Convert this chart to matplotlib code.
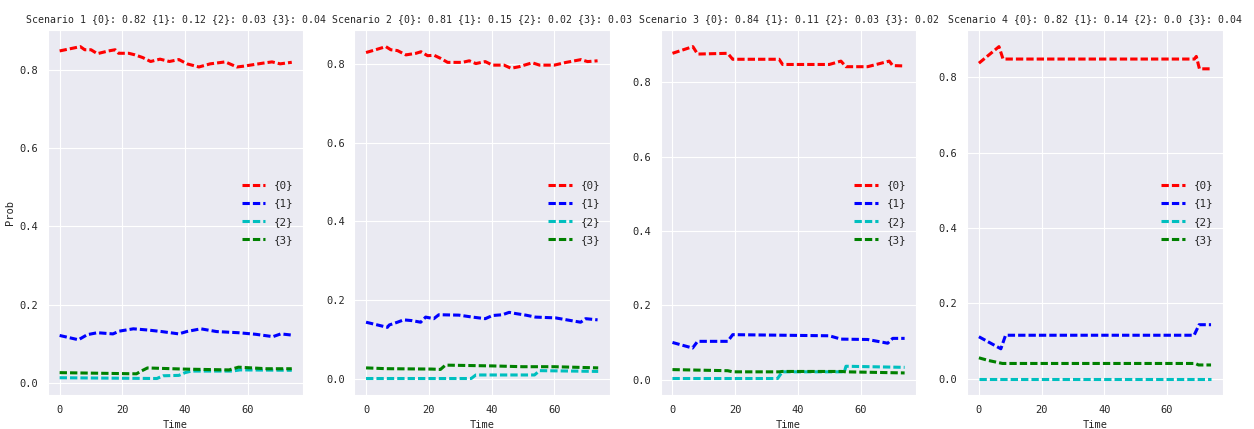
import matplotlib
matplotlib.use("Agg")
import matplotlib.pyplot as plt
import seaborn as sns

# ---- data: keypoints (time, value) for each scenario/series ----
labels = ["{0}", "{1}", "{2}", "{3}"]
colors = ["r", "b", "c", "g"]
finals = [
    [0.82, 0.12, 0.03, 0.04],
    [0.81, 0.15, 0.02, 0.03],
    [0.84, 0.11, 0.03, 0.02],
    [0.82, 0.14, 0.0, 0.04],
]

# Scenario 1
s1_t0 = [0, 3, 6.6, 8, 10, 12, 15.6, 17.7, 18.8, 22, 24, 26.5, 29, 32, 35, 38, 40.6, 44.4, 48, 52.8, 56.5, 58.6, 65, 67.7, 70.3, 74]
s1_v0 = [0.848, 0.853, 0.859, 0.851, 0.851, 0.841, 0.848, 0.851, 0.842, 0.842, 0.838, 0.831, 0.821, 0.827, 0.821, 0.826, 0.815, 0.807, 0.815, 0.820, 0.807, 0.809, 0.817, 0.820, 0.815, 0.819]
s1_t1 = [0, 6, 8.8, 12, 17, 19, 23.5, 28, 32.5, 38, 40.5, 45, 50, 57, 62.5, 68, 70.5, 74]
s1_v1 = [0.121, 0.110, 0.123, 0.128, 0.125, 0.132, 0.138, 0.135, 0.131, 0.125, 0.131, 0.138, 0.131, 0.128, 0.124, 0.118, 0.125, 0.122]
s1_t2 = [0, 31, 33, 38, 40, 42, 55, 57.5, 74]
s1_v2 = [0.013, 0.011, 0.018, 0.019, 0.026, 0.030, 0.030, 0.033, 0.032]
s1_t3 = [0, 24.5, 26, 28, 40, 54, 57, 66, 74]
s1_v3 = [0.026, 0.023, 0.030, 0.038, 0.035, 0.033, 0.040, 0.036, 0.036]

# Scenario 2
s2_t0 = [0, 3, 6.3, 7.9, 10, 12.7, 15.9, 17.5, 19.6, 21.7, 23.8, 26, 30.7, 32.9, 35, 38, 40.3, 44, 46.2, 48.8, 53, 55.3, 60, 63.8, 68.5, 70.6, 73.8]
s2_v0 = [0.829, 0.836, 0.844, 0.836, 0.834, 0.823, 0.827, 0.831, 0.821, 0.822, 0.814, 0.804, 0.804, 0.808, 0.801, 0.806, 0.797, 0.797, 0.789, 0.793, 0.803, 0.797, 0.797, 0.804, 0.811, 0.806, 0.808]
s2_t1 = [0, 6.8, 7.4, 10, 12, 14.7, 17.4, 19, 21.6, 23.2, 29.6, 33.9, 38, 40.3, 43.5, 45.6, 47.7, 50.9, 54, 60.4, 64.7, 68.4, 70, 73.8]
s2_v1 = [0.144, 0.131, 0.137, 0.144, 0.150, 0.148, 0.144, 0.157, 0.153, 0.163, 0.162, 0.157, 0.153, 0.161, 0.163, 0.169, 0.166, 0.162, 0.157, 0.155, 0.149, 0.144, 0.153, 0.150]
s2_t2 = [0, 33.5, 35, 53.7, 55.3, 74]
s2_v2 = [0.001, 0.001, 0.010, 0.010, 0.021, 0.019]
s2_t3 = [0, 6.3, 21, 23.7, 25.3, 40.3, 49.9, 60, 74]
s2_v3 = [0.028, 0.026, 0.025, 0.024, 0.035, 0.033, 0.031, 0.031, 0.028]

# Scenario 3
s3_t0 = [0, 6.5, 8, 17.6, 19.2, 34, 35.1, 50, 53.7, 55.3, 62.2, 69.1, 70.2, 74]
s3_v0 = [0.878, 0.896, 0.876, 0.878, 0.862, 0.862, 0.848, 0.848, 0.857, 0.842, 0.842, 0.857, 0.845, 0.844]
s3_t1 = [0, 6.4, 8, 17.6, 19.2, 50, 53.7, 62.2, 68.6, 70.2, 74]
s3_v1 = [0.100, 0.085, 0.103, 0.103, 0.121, 0.118, 0.109, 0.108, 0.098, 0.111, 0.111]
s3_t2 = [0, 33.5, 35, 54.8, 55.3, 74]
s3_v2 = [0.003, 0.003, 0.021, 0.021, 0.036, 0.033]
s3_t3 = [0, 17.6, 19.2, 34, 35, 54, 55.3, 74]
s3_v3 = [0.027, 0.024, 0.021, 0.021, 0.022, 0.022, 0.021, 0.018]

# Scenario 4
s4_t0 = [0, 6.4, 7.7, 68.7, 69.3, 70.3, 74]
s4_v0 = [0.838, 0.882, 0.849, 0.849, 0.856, 0.823, 0.823]
s4_t1 = [0, 7, 8.5, 68.6, 70.2, 74]
s4_v1 = [0.111, 0.079, 0.115, 0.115, 0.143, 0.143]
s4_t2 = [0, 74]
s4_v2 = [0.0, 0.0]
s4_t3 = [0, 3, 7.5, 69, 70, 74]
s4_v3 = [0.055, 0.048, 0.040, 0.040, 0.036, 0.036]

scenarios = [
    [(s1_t0, s1_v0), (s1_t1, s1_v1), (s1_t2, s1_v2), (s1_t3, s1_v3)],
    [(s2_t0, s2_v0), (s2_t1, s2_v1), (s2_t2, s2_v2), (s2_t3, s2_v3)],
    [(s3_t0, s3_v0), (s3_t1, s3_v1), (s3_t2, s3_v2), (s3_t3, s3_v3)],
    [(s4_t0, s4_v0), (s4_t1, s4_v1), (s4_t2, s4_v2), (s4_t3, s4_v3)],
]

sns.set_style("darkgrid")
plt.rcParams["font.family"] = ["DejaVu Sans Mono"]
plt.rcParams["font.size"] = 7.5

fig, axes = plt.subplots(1, 4, figsize=(12.54, 4.29), dpi=100)
fig.subplots_adjust(left=0.0383, right=0.975, top=0.93, bottom=0.079, wspace=0.2)

for i, ax in enumerate(axes):
    for j, (t, v) in enumerate(scenarios[i]):
        ax.plot(t, v, color=colors[j], lw=2.2, linestyle=(0, (2.4, 1.0)), label=labels[j])
    f = finals[i]
    ax.set_title("Scenario %d {0}: %s {1}: %s {2}: %s {3}: %s" % (i + 1, f[0], f[1], f[2], f[3]),
                 fontsize=7.15, color=".15", pad=6)
    ax.set_xlabel("Time", fontsize=7.5, color=".15")
    if i == 0:
        ax.set_ylabel("Prob", fontsize=7.5, color=".15", labelpad=3)
    ax.set_xticks([0, 20, 40, 60])
    ax.set_yticks([0.0, 0.2, 0.4, 0.6, 0.8])
    ax.tick_params(labelsize=7.5, colors=".15")
    ax.legend(loc="center right", frameon=False, fontsize=7.8, handlelength=2.2,
              labelspacing=0.75)

fig.savefig("out.png", dpi=100)
